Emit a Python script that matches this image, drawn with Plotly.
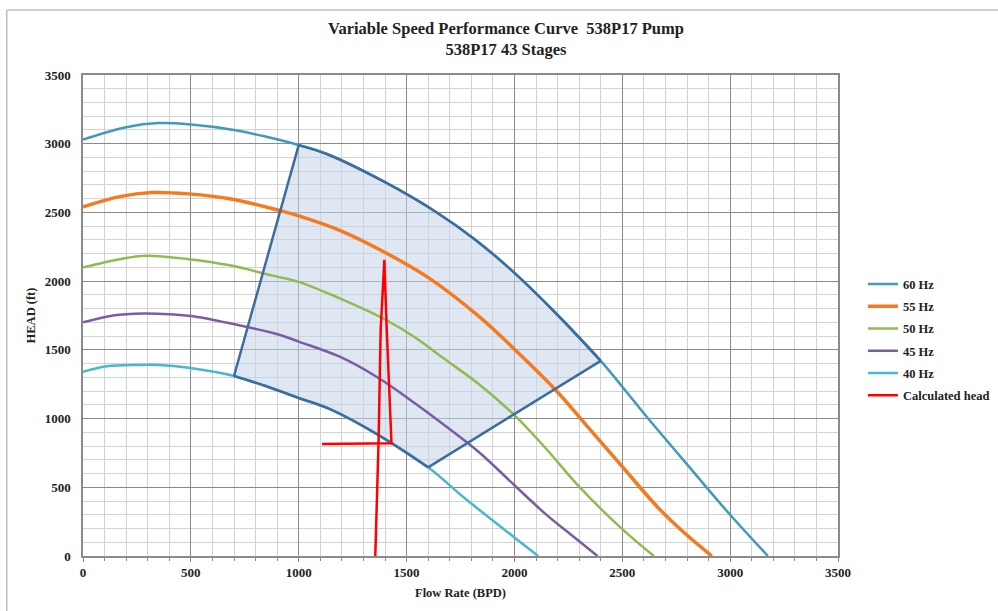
import plotly.graph_objects as go

# ---------------- data ----------------
HZ60_X = [0, 200, 350, 500, 700, 850, 1000, 1130, 1400, 1640, 1820, 2000, 2190, 2400, 2620, 2820, 3000, 3175]
HZ60_Y = [3030, 3120, 3150, 3140, 3100, 3050, 2990, 2925, 2720, 2500, 2300, 2060, 1770, 1420, 1000, 630, 300, 0]

HZ55_X = [0, 170, 320, 490, 680, 910, 1000, 1190, 1405, 1606, 1838, 2000, 2190, 2345, 2500, 2670, 2790, 2915]
HZ55_Y = [2540, 2615, 2645, 2635, 2600, 2515, 2475, 2370, 2205, 2020, 1740, 1505, 1210, 930, 650, 345, 165, 0]

HZ50_X = [0, 170, 290, 490, 680, 880, 1000, 1190, 1390, 1545, 1670, 1840, 2000, 2150, 2300, 2500, 2646]
HZ50_Y = [2100, 2160, 2185, 2160, 2115, 2040, 1995, 1875, 1730, 1585, 1440, 1245, 1025, 775, 505, 195, 0]

HZ45_X = [0, 140, 280, 400, 510, 690, 910, 1000, 1190, 1370, 1540, 1690, 1840, 2000, 2146, 2270, 2385]
HZ45_Y = [1700, 1750, 1765, 1760, 1745, 1690, 1610, 1560, 1450, 1295, 1110, 935, 750, 515, 303, 146, 0]

HZ40_X = [0, 110, 260, 350, 490, 700, 850, 1000, 1150, 1370, 1600, 1770, 2000, 2110]
HZ40_Y = [1340, 1380, 1390, 1390, 1370, 1310, 1235, 1150, 1065, 880, 645, 420, 135, 0]

CALC_X = [1355, 1370, 1380, 1397, 1408, 1430, 1108]
CALC_Y = [0, 820, 1650, 2155, 1650, 820, 815]

# operating envelope: flow limits on the 60 Hz and 40 Hz curves
ENV_60_MIN, ENV_60_MAX = 1000, 2400
ENV_40_MIN, ENV_40_MAX = 700, 1600

SERIES = ["60 Hz", "55 Hz", "50 Hz", "45 Hz", "40 Hz"]
COLORS = ["#3f9bb9", "#f57a1f", "#8fbb50", "#7b5ca3", "#4ab6d0"]
WIDTHS = [2.5, 3.5, 2.5, 2.5, 2.5]
X_TICKS = [0, 500, 1000, 1500, 2000, 2500, 3000, 3500]
Y_TICKS = [0, 500, 1000, 1500, 2000, 2500, 3000, 3500]

TITLE = "Variable Speed Performance Curve  538P17 Pump<br>538P17 43 Stages"
X_TITLE = "Flow Rate (BPD)"
Y_TITLE = "HEAD (ft)"

FONT = "Liberation Serif"
SMOOTH = 1.0

# ---------------- envelope geometry from curve data ----------------
top_x = [x for x in HZ60_X if ENV_60_MIN <= x <= ENV_60_MAX]
top_y = [y for x, y in zip(HZ60_X, HZ60_Y) if ENV_60_MIN <= x <= ENV_60_MAX]
bot_x = [x for x in HZ40_X if ENV_40_MIN <= x <= ENV_40_MAX]
bot_y = [y for x, y in zip(HZ40_X, HZ40_Y) if ENV_40_MIN <= x <= ENV_40_MAX]

poly_x = top_x + bot_x[::-1] + [top_x[0]]
poly_y = top_y + bot_y[::-1] + [top_y[0]]

edge_x = [bot_x[0], top_x[0], None, top_x[-1], bot_x[-1]]
edge_y = [bot_y[0], top_y[0], None, top_y[-1], bot_y[-1]]

fig = go.Figure()

fig.add_trace(go.Scatter(x=poly_x, y=poly_y, mode="lines", fill="toself",
                         fillcolor="rgba(196,212,234,0.55)", line=dict(width=0),
                         showlegend=False, hoverinfo="skip"))

all_x = [HZ60_X, HZ55_X, HZ50_X, HZ45_X, HZ40_X]
all_y = [HZ60_Y, HZ55_Y, HZ50_Y, HZ45_Y, HZ40_Y]
for name, xs, ys, c, w in zip(SERIES, all_x, all_y, COLORS, WIDTHS):
    fig.add_trace(go.Scatter(x=xs, y=ys, mode="lines", name=name, legendgroup=name,
                             line=dict(color=c, width=w, shape="spline", smoothing=SMOOTH)))

outline_color = "#3d6c9e"
fig.add_trace(go.Scatter(x=top_x + [None] + bot_x, y=top_y + [None] + bot_y, mode="lines",
                         line=dict(color=outline_color, width=2.5, shape="spline", smoothing=SMOOTH),
                         showlegend=False, hoverinfo="skip", connectgaps=False))
fig.add_trace(go.Scatter(x=edge_x, y=edge_y, mode="lines",
                         line=dict(color=outline_color, width=2.5),
                         showlegend=False, hoverinfo="skip", connectgaps=False))

fig.add_trace(go.Scatter(x=CALC_X, y=CALC_Y, mode="lines", name="Calculated head",
                         legendgroup="calc", line=dict(color="#ff0000", width=2.5)))

axis_common = dict(
    range=[0, 3500], dtick=500, tick0=0,
    showgrid=True, gridcolor="#8a8a8a", gridwidth=1,
    minor=dict(dtick=100, showgrid=True, gridcolor="#d3d3d3", gridwidth=1),
    showline=True, linecolor="#8a8a8a", linewidth=1.5, mirror=True,
    zeroline=False,
    tickfont=dict(family=FONT, size=13, color="#222222", weight="bold"),
    title_font=dict(family=FONT, size=12.5, color="#222222", weight="bold"),
)

fig.update_xaxes(**axis_common, tickvals=X_TICKS,
                 ticks="outside", ticklen=4, tickcolor="#8a8a8a",
                 title_text=X_TITLE, title_standoff=9)
fig.update_xaxes(minor_ticks="outside", minor_ticklen=3, minor_tickcolor="#8a8a8a")
fig.update_yaxes(**axis_common, tickvals=Y_TICKS, ticks="",
                 ticklabelstandoff=8,
                 title_text=Y_TITLE, title_standoff=6)

fig.update_layout(
    width=998, height=611,
    margin=dict(l=83, r=160, t=75, b=55, autoexpand=False),
    paper_bgcolor="white", plot_bgcolor="white",
    title=dict(text=TITLE, x=0.507, xref="container", xanchor="center",
               y=0.945, yanchor="top", yref="container",
               font=dict(family=FONT, size=16.5, color="#222222", weight="bold")),
    legend=dict(x=1.033, y=0.596, xanchor="left", yanchor="top",
                font=dict(family=FONT, size=12.5, color="#222222", weight="bold"),
                tracegroupgap=3, itemwidth=30, bgcolor="rgba(0,0,0,0)"),
    showlegend=True,
    shapes=[
        dict(type="line", xref="paper", yref="paper", x0=-0.101, x1=1.25, y0=1.135, y1=1.135,
             line=dict(color="#c0c0c0", width=1.5)),
        dict(type="line", xref="paper", yref="paper", x0=-0.101, x1=-0.101, y0=1.135, y1=-0.12,
             line=dict(color="#c0c0c0", width=1.5)),
    ],
)

fig.write_html("out.html", config={"displayModeBar": False},
               post_script="document.body.style.margin='0';")
